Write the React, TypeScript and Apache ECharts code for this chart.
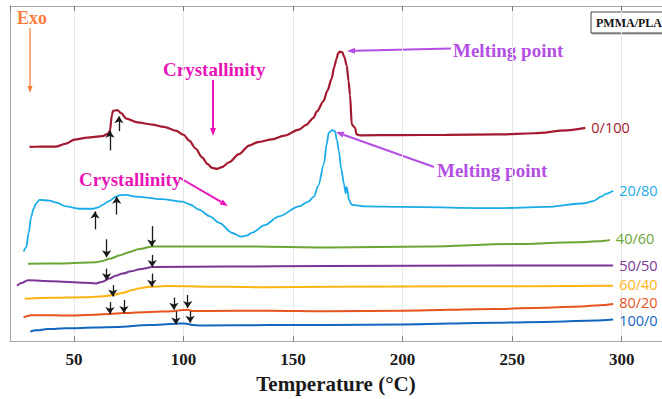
import React, { useEffect, useRef } from "react";
import * as echarts from "echarts";

const SERIF = '"Liberation Serif", "Times New Roman", serif';
const SANS = '"Open Sans", "Noto Sans", sans-serif';

const X_MIN = 20.79;
const X_MAX = 318.4;
const Y_MIN = 0;
const Y_MAX = 341;

const seriesNames = ["0/100", "20/80", "40/60", "50/50", "60/40", "80/20", "100/0"];
const seriesColors = ["#A3192F", "#1AABE8", "#6AA636", "#7B3594", "#FFB414", "#E8531E", "#1366C0"];
const seriesWidths = [2.2, 1.8, 2, 2, 2, 2, 2];
const labelOffsets = [[0, 0], [0, 0], [0, -1], [0, 0], [0, -1], [0, -2], [0, 1]];

// [temperature °C, heat flow (a.u., offset)]
const curve0_100: number[][] = [
  [29.7, 197.7], [35, 197.8], [41.9, 198], [46.4, 201], [50.2, 205], [56, 207], [63, 208.5], [65.5, 211],
  [66.4, 214], [67.3, 230], [67.8, 234.3], [69.8, 235], [71.5, 232], [73.9, 226.3], [79, 222.5], [85.7, 220.3],
  [91, 218], [96.7, 214], [100, 210], [102.6, 204], [105.5, 196], [108.5, 187], [111, 180], [113, 176.3],
  [115.3, 175.3], [117.5, 177], [120.8, 182], [125.3, 190.3], [129.9, 199], [134, 202.5], [140.4, 205.3],
  [146, 209], [152.7, 215.3], [156, 220], [159.2, 227], [161, 234], [163.8, 244], [165.7, 255], [167.6, 267],
  [168.8, 279], [169.8, 287], [170.6, 293], [171.4, 294.5], [172.4, 294], [173.4, 289], [174.5, 280.3],
  [175.3, 265], [176, 250.3], [176.8, 220.3], [178.3, 217], [179, 210.3], [181, 209.3], [198.3, 209.7],
  [220, 209.8], [243.8, 210.3], [260, 211.5], [275, 214.5], [283.4, 217],
];
const curve20_80: number[][] = [
  [27, 91], [28.2, 95.3], [29.3, 110], [30.5, 127], [31.6, 135], [32.8, 140.3], [34.3, 143.7], [38.8, 143],
  [42, 141], [46.4, 137], [52.5, 134.7], [58.6, 134.7], [61, 136], [63.1, 138.7], [66, 142.5], [69.2, 147],
  [71, 148.5], [73.8, 148.7], [78.3, 147], [90, 144.5], [99.5, 142], [103, 139], [107.1, 133.7], [112, 127],
  [116.3, 120.3], [122.3, 110], [126.1, 106.3], [129, 107.5], [131.3, 110.3], [137, 118], [143.6, 127],
  [152.7, 137], [157, 142], [159.5, 147], [161.5, 158], [164.1, 180.3], [165.3, 200], [166.3, 212],
  [167.7, 214.7], [169.1, 213.7], [170, 205], [170.9, 193.7], [172, 175], [173.2, 160.3], [174, 150.3],
  [174.4, 157], [174.8, 154], [175.5, 143.7], [176.8, 138.7], [183.1, 137], [200, 136.5], [243.8, 135.3],
  [265, 136.5], [283.2, 140.3], [287, 142.5], [290.7, 147], [293, 150], [296.1, 153],
];
const curve40_60: number[][] = [
  [29, 78.7], [45, 79], [60.1, 80.3], [63, 81.5], [66.2, 83.7], [70.7, 87], [75, 90.5], [79.8, 93.7],
  [85.9, 96.3], [100, 96.3], [130, 96.2], [166.3, 95.3], [211.9, 96.3], [249.7, 98.7], [280, 100.5],
  [290, 101.5], [292.3, 102], [294.6, 103],
];
const curve50_50: number[][] = [
  [24, 56.3], [26, 59], [29, 62], [40, 61], [55, 59.5], [60.1, 58.7], [63, 60.5], [66.2, 63.7], [69, 66.5],
  [72.2, 68.7], [76, 71], [79.8, 73], [85.9, 75.3], [120, 75.8], [166.3, 76.3], [242.3, 77], [296.1, 77],
];
const curve60_40: number[][] = [
  [27.5, 43], [40, 44], [55, 44.5], [61.6, 45.3], [64.5, 46], [67.7, 47], [72, 49], [76.8, 52], [80, 53.8],
  [84.4, 55.3], [92, 56], [120, 55.3], [139, 54.7], [166.3, 55.3], [230, 55.7], [296.1, 56.3],
];
const curve80_20: number[][] = [
  [27, 24.3], [30.5, 26.3], [35, 26.4], [46.4, 26], [60, 26.8], [66.2, 27.7], [72.8, 28.5], [84.4, 29.7],
  [95, 30.3], [99.5, 31.7], [102, 31.8], [104.1, 30.6], [110, 30.6], [139, 31], [166.3, 30.3], [200, 31],
  [242.3, 32.7], [265, 34], [281.7, 35.3], [290, 36.5], [296.1, 37.7],
];
const curve100_0: number[][] = [
  [30.1, 9.7], [32.8, 11], [38, 12.3], [46.4, 13], [60, 13.8], [69.2, 14.3], [84.4, 16.3], [96.5, 17.7],
  [100.3, 18], [102, 17.5], [104.1, 16.3], [108, 15.8], [139, 16.3], [166.3, 16.3], [200, 17],
  [242.3, 18.7], [270, 19.8], [287.8, 21], [296.1, 22],
];
const curves = [curve0_100, curve20_80, curve40_60, curve50_50, curve60_40, curve80_20, curve100_0];

// transition arrows: [temperature, tail value, head value]
const arrows0_100 = [[66.4, 194, 214], [70.5, 213.7, 228.7]];
const arrows20_80 = [[59.6, 113.7, 132], [69.5, 128.7, 147]];
const arrows40_60 = [[64.9, 103.7, 85.3], [85.5, 117, 96.3]];
const arrows50_50 = [[64.9, 73.7, 62], [85.7, 87.7, 75.3]];
const arrows60_40 = [[67.7, 57, 45.3], [85.5, 68.7, 55.3]];
const arrows80_20 = [[66.4, 39.7, 27.7], [72.8, 42, 28.7], [95.6, 44.3, 32], [101.9, 47, 33.7]];
const arrows100_0 = [[96.5, 30.3, 17], [103, 30.3, 18.7]];
const arrowSets = [arrows0_100, arrows20_80, arrows40_60, arrows50_50, arrows60_40, arrows80_20, arrows100_0];

function arrowShape(x1: number, y1: number, x2: number, y2: number, color: string, w: number, hl: number, hw: number) {
  const dx = x2 - x1;
  const dy = y2 - y1;
  const len = Math.sqrt(dx * dx + dy * dy);
  const ux = dx / len;
  const uy = dy / len;
  const bx = x2 - ux * hl;
  const by = y2 - uy * hl;
  const nx = -uy;
  const ny = ux;
  return [
    { type: "line", shape: { x1, y1, x2: bx, y2: by }, style: { stroke: color, lineWidth: w }, silent: true },
    {
      type: "polygon",
      shape: { points: [[x2, y2], [bx + (nx * hw) / 2, by + (ny * hw) / 2], [bx - (nx * hw) / 2, by - (ny * hw) / 2]] },
      style: { fill: color },
      silent: true,
    },
  ];
}

function label(text: string, x: number, y: number, color: string, size: number) {
  return {
    type: "text",
    x,
    y,
    silent: true,
    style: { text, fill: color, font: `bold ${size}px ${SERIF}`, align: "left", verticalAlign: "middle" },
  };
}

export default function App() {
  const ref = useRef<HTMLDivElement>(null);
  useEffect(() => {
    if (!ref.current) return;
    const chart = echarts.init(ref.current, undefined, { renderer: "svg" });
    const series = seriesNames.map((name, i) => ({
      name,
      type: "line",
      data: curves[i],
      showSymbol: false,
      symbol: "none",
      smooth: 0.3,
      smoothMonotone: "x",
      lineStyle: { color: seriesColors[i], width: seriesWidths[i] },
      itemStyle: { color: seriesColors[i] },
      endLabel: {
        show: true,
        formatter: "{a}",
        color: seriesColors[i],
        fontFamily: SANS,
        fontSize: 14.5,
        lineHeight: 15,
        distance: 6,
        offset: labelOffsets[i],
      },
      emphasis: { disabled: true },
      markLine: {
        silent: true,
        symbol: ["none", "arrow"],
        symbolSize: 7,
        label: { show: false },
        emphasis: { disabled: true },
        lineStyle: { color: "#1a1a1a", width: 1.3, type: "solid" },
        data: arrowSets[i].map((a) => [{ coord: [a[0], a[1]] }, { coord: [a[0], a[2]] }]),
      },
    }));

    const MAGENTA = "#E914B8";
    const PURPLE = "#B44FE3";
    const ORANGE = "#FF7D3B";
    const graphic: any[] = [
      label("Exo", 17, 18, ORANGE, 18),
      ...arrowShape(30, 28, 30, 93, ORANGE, 1.3, 7, 5),
      label("Crystallinity", 163, 69, MAGENTA, 19),
      ...arrowShape(213, 80, 213, 136, MAGENTA, 2, 8, 6),
      label("Crystallinity", 79, 179, MAGENTA, 19),
      ...arrowShape(180, 178, 228, 206, MAGENTA, 2, 8, 6),
      label("Melting point", 453, 50, PURPLE, 19),
      ...arrowShape(451, 48.5, 347, 51, PURPLE, 2, 8, 6),
      label("Melting point", 437, 170, PURPLE, 19),
      ...arrowShape(434, 167, 336, 132, PURPLE, 2, 8, 6),
      {
        type: "rect",
        shape: { x: 591, y: 12, width: 80, height: 21 },
        style: { fill: "#ffffff", stroke: "#444444", lineWidth: 1, shadowColor: "rgba(0,0,0,0.35)", shadowOffsetX: 1, shadowOffsetY: 1, shadowBlur: 1 },
        silent: true,
      },
      label("PMMA/PLA", 596, 22.5, "#111111", 12),
    ];

    chart.setOption({
      animation: false,
      backgroundColor: "#ffffff",
      grid: { left: 10, right: 0, top: 6, bottom: 52, containLabel: false },
      xAxis: [
        {
          type: "value",
          position: "bottom",
          min: X_MIN,
          max: X_MAX,
          splitNumber: 5,
          axisLine: { show: true, onZero: false, lineStyle: { color: "#A6A6A6", width: 1 } },
          axisTick: { show: true, inside: true, length: 5, lineStyle: { color: "#7a7a7a" } },
          axisLabel: {
            show: true,
            showMinLabel: false,
            showMaxLabel: false,
            margin: 10,
            color: "#1a1a1a",
            fontFamily: SERIF,
            fontWeight: "bold",
            fontSize: 17,
          },
          splitLine: { show: true, lineStyle: { color: "#E6E6E6", width: 1 } },
          name: "Temperature (°C)",
          nameLocation: "middle",
          nameGap: 28,
          nameTextStyle: { color: "#1a1a1a", fontFamily: SERIF, fontWeight: "bold", fontSize: 21 },
        },
        {
          type: "value",
          position: "top",
          min: X_MIN,
          max: X_MAX,
          splitNumber: 5,
          axisLine: { show: true, onZero: false, lineStyle: { color: "#A6A6A6", width: 1 } },
          axisTick: { show: true, inside: true, length: 5, lineStyle: { color: "#7a7a7a" } },
          axisLabel: { show: false },
          splitLine: { show: false },
        },
      ],
      yAxis: {
        type: "value",
        min: Y_MIN,
        max: Y_MAX,
        axisLine: { show: true, onZero: false, lineStyle: { color: "#A6A6A6", width: 1 } },
        axisTick: { show: false },
        axisLabel: { show: false },
        splitLine: { show: false },
      },
      series,
      graphic,
    });
    return () => chart.dispose();
  }, []);
  return (
    <div
      ref={ref}
      style={{ position: "fixed", left: 0, top: 0, width: 662, height: 399, background: "#ffffff" }}
    />
  );
}
